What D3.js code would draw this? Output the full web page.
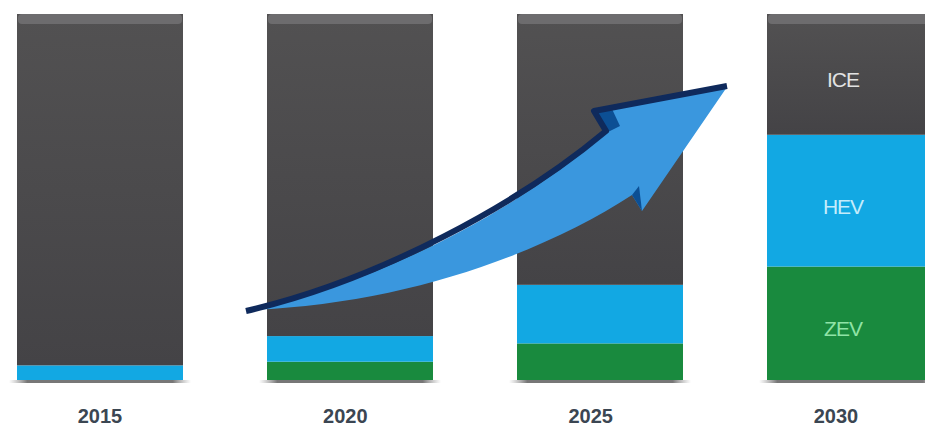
<!DOCTYPE html>
<meta charset="utf-8">
<style>
  body { margin: 0; background: #fff; }
</style>

<!-- Load d3.js -->
<script src="https://d3js.org/d3.v7.min.js"></script>

<div id="my_dataviz"></div>

<script>

// data, share of new vehicles (%)
var years = ["2015", "2020", "2025", "2030"];
var zev = [0, 5, 10, 31];
var hev = [4, 7, 16, 36];
var ice = [96, 88, 74, 33];
var kinds = ["ZEV", "HEV", "ICE"];
var kindColors = ["#198a3e", "#12a8e3", "#4d4c4e"];
var kindTextColors = ["#8fe3a6", "#c4ecfb", "#e2e2e2"];

var width = 925, height = 428;

var svg = d3.select("#my_dataviz")
  .append("svg")
    .attr("width", width)
    .attr("height", height);

var table = years.map(function(y, i) {
  return {year: y, ZEV: zev[i], HEV: hev[i], ICE: ice[i]};
});
var series = d3.stack().keys(kinds)(table);

var x = d3.scaleBand()
  .domain(years)
  .range([17, 933])
  .paddingInner(0.336)
  .paddingOuter(0);

var y = d3.scaleLinear()
  .domain([0, 100])
  .range([380, 14]);

// year labels sit a little left of the bar centres in the picture
var xLabel = d3.scalePoint()
  .domain(years)
  .range([100, 836]);

var defs = svg.append("defs");
var grad = defs.append("linearGradient")
  .attr("id", "iceGrad")
  .attr("x1", 0).attr("y1", 0).attr("x2", 0).attr("y2", 1);
grad.append("stop").attr("offset", "0%").attr("stop-color", "#525152");
grad.append("stop").attr("offset", "100%").attr("stop-color", "#444346");

var shadow = defs.append("linearGradient")
  .attr("id", "baseShadow")
  .attr("x1", 0).attr("y1", 0).attr("x2", 1).attr("y2", 0);
shadow.append("stop").attr("offset", "0%").attr("stop-color", "#999").attr("stop-opacity", 0);
shadow.append("stop").attr("offset", "10%").attr("stop-color", "#777");
shadow.append("stop").attr("offset", "90%").attr("stop-color", "#777");
shadow.append("stop").attr("offset", "100%").attr("stop-color", "#999").attr("stop-opacity", 0);

// base shadow under each bar
svg.selectAll("rect.base")
  .data(years)
  .enter()
  .append("rect")
    .attr("class", "base")
    .attr("x", function(d) { return x(d) - 8; })
    .attr("y", y(0))
    .attr("width", x.bandwidth() + 16)
    .attr("height", 3)
    .attr("fill", "url(#baseShadow)");

// stacked segments
svg.append("g")
  .selectAll("g")
  .data(series)
  .enter()
  .append("g")
    .attr("fill", function(d, i) { return i == 2 ? "url(#iceGrad)" : kindColors[i]; })
  .selectAll("rect")
  .data(function(d) { return d; })
  .enter()
  .append("rect")
    .attr("x", function(d) { return x(d.data.year); })
    .attr("y", function(d) { return y(d[1]); })
    .attr("width", x.bandwidth())
    .attr("height", function(d) { return y(d[0]) - y(d[1]); });

// lighter bevel on top of each column
svg.selectAll("rect.cap")
  .data(years)
  .enter()
  .append("rect")
    .attr("class", "cap")
    .attr("x", function(d) { return x(d) + 1; })
    .attr("y", y(100))
    .attr("width", x.bandwidth() - 2)
    .attr("height", 10)
    .attr("rx", 4)
    .attr("fill", "#6d6c6e");

// year labels
svg.selectAll("text.year")
  .data(years)
  .enter()
  .append("text")
    .attr("class", "year")
    .attr("x", function(d) { return xLabel(d); })
    .attr("y", 423)
    .attr("text-anchor", "middle")
    .style("font-family", "'Liberation Sans', Arial, sans-serif")
    .style("font-weight", "bold")
    .style("font-size", "20px")
    .style("fill", "#3b4652")
    .text(function(d) { return d; });

// segment names inside the last column
var last = years[years.length - 1];
svg.selectAll("text.kind")
  .data(series)
  .enter()
  .append("text")
    .attr("class", "kind")
    .attr("x", x(last) + x.bandwidth() / 2 - 7)
    .attr("y", function(d) {
      var s = d[d.length - 1];
      return (y(s[0]) + y(s[1])) / 2 + 13;
    })
    .attr("text-anchor", "middle")
    .style("font-family", "'Liberation Sans', Arial, sans-serif")
    .style("font-size", "21px")
    .style("letter-spacing", "-1px")
    .style("fill", function(d, i) { return kindTextColors[i]; })
    .text(function(d) { return d.key; });

// growth arrow (decoration)
svg.append("path")
  .attr("d", "M248,310 C380,284 520,208 606,133 L594,112 L727,87 L642,211 L632,195 C540,255 400,305 248,310 Z")
  .attr("fill", "#3a97de");

svg.append("path")
  .attr("d", "M606,133 L594,112 L612,109 L620,126 Z")
  .attr("fill", "#0c4f94");

svg.append("path")
  .attr("d", "M632,195 L642,211 L639,186 Z")
  .attr("fill", "#0c4f94");

svg.append("path")
  .attr("d", "M246,311 C380,280 520,203 606,131 L594,111 L727,86")
  .attr("fill", "none")
  .attr("stroke", "#0f2a5c")
  .attr("stroke-width", 6)
  .attr("stroke-linejoin", "round");

</script>
